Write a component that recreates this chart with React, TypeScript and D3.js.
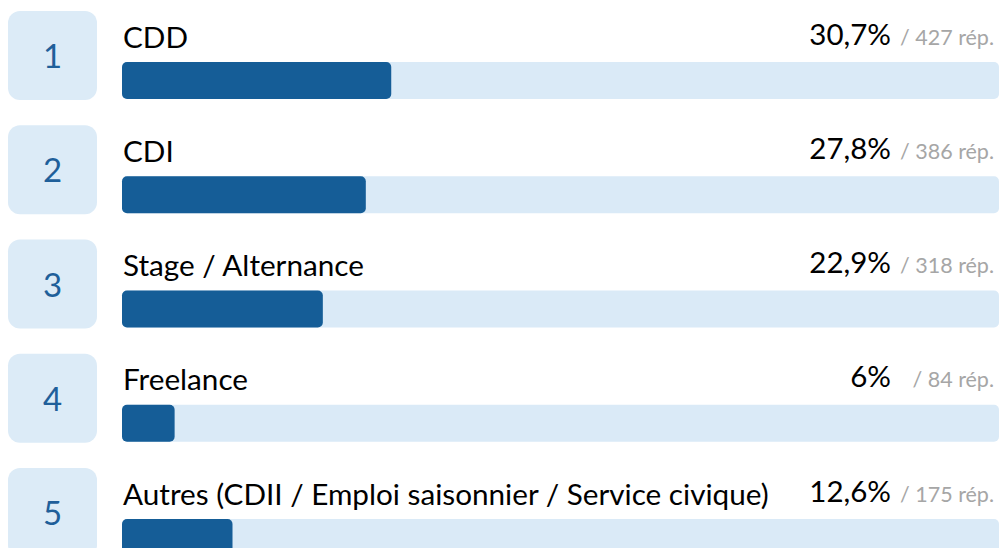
import React from "react";
import * as d3 from "d3";

const ranks = [1, 2, 3, 4, 5];
const categories = [
  "CDD",
  "CDI",
  "Stage / Alternance",
  "Freelance",
  "Autres (CDII / Emploi saisonnier / Service civique)",
];
const percents = [30.7, 27.8, 22.9, 6, 12.6];
const percentLabels = ["30,7%", "27,8%", "22,9%", "6%", "12,6%"];
const responses = [427, 386, 318, 84, 175];

const WIDTH = 999;
const HEIGHT = 548;
const FONT = "Lato, 'Open Sans', sans-serif";

const App = () => {
  const margin = { top: 11, left: 8 };
  const boxSize = 89;
  const barLeft = 122;
  const trackWidth = 877;
  const barHeight = 37;

  // one row per category
  const y = d3
    .scalePoint<string>()
    .domain(categories)
    .range([margin.top, margin.top + 457]);

  const x = d3.scaleLinear().domain([0, 100]).range([0, trackWidth]);

  return (
    <svg
      width={WIDTH}
      height={HEIGHT}
      style={{ position: "absolute", left: 0, top: 0, display: "block" }}
    >
      <rect width={WIDTH} height={HEIGHT} fill="#ffffff" />
      {categories.map((c, i) => {
        const top = y(c) as number;
        return (
          <g key={c} transform={`translate(0,${top})`}>
            <rect
              x={margin.left}
              y={0}
              width={boxSize}
              height={boxSize}
              rx={12}
              fill="#DCEBF7"
            />
            <text
              x={margin.left + boxSize / 2}
              y={57}
              textAnchor="middle"
              fontFamily={FONT}
              fontSize={33}
              fill="#1F5F9A"
            >
              {ranks[i]}
            </text>
            <text
              x={barLeft + 1}
              y={36.5}
              fontFamily={FONT}
              fontSize={29.7}
              fill="#000000"
            >
              {c}
            </text>
            <text
              x={891}
              y={33.5}
              textAnchor="end"
              fontFamily={FONT}
              fontSize={29.5}
              fill="#000000"
            >
              {percentLabels[i]}
            </text>
            <text
              x={994}
              y={33.5}
              textAnchor="end"
              fontFamily={FONT}
              fontSize={21.5}
              fill="#A6A6A6"
            >
              {`/ ${responses[i]} rép.`}
            </text>
            <rect
              x={barLeft}
              y={51}
              width={x(100)}
              height={barHeight}
              rx={5}
              fill="#DAEAF7"
            />
            <rect
              x={barLeft}
              y={51}
              width={x(percents[i])}
              height={barHeight}
              rx={5}
              fill="#155D97"
            />
          </g>
        );
      })}
    </svg>
  );
};

export default App;
